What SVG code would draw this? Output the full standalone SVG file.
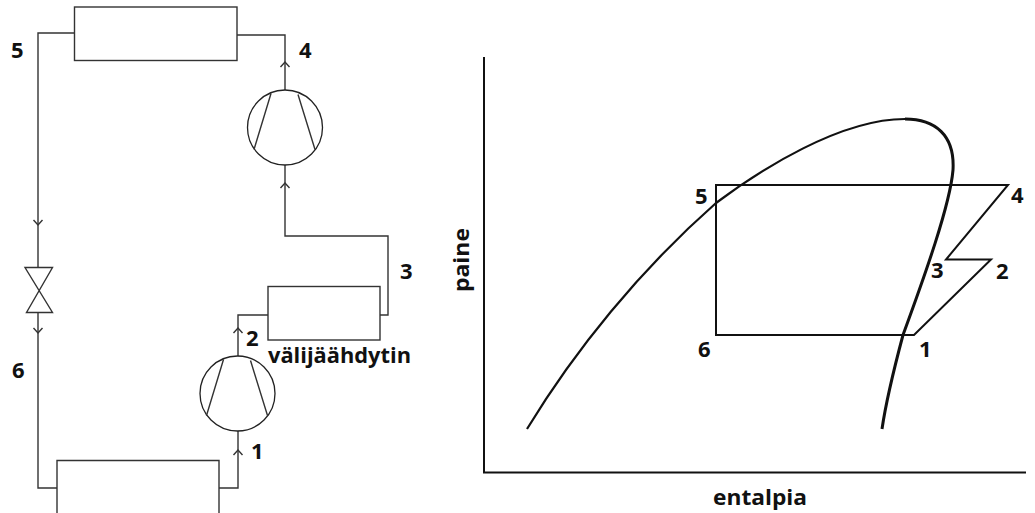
<svg xmlns="http://www.w3.org/2000/svg" width="1035" height="513" viewBox="0 0 1035 513">
<style>
.l{fill:none;stroke:#333;stroke-width:1.4}
.c{fill:#fff;stroke:#222;stroke-width:1.3}
.a{fill:none;stroke:#111;stroke-width:2;stroke-linejoin:miter}
.k{fill:none;stroke:#111;stroke-width:2.2;stroke-linecap:butt}
.h{fill:none;stroke:#111;stroke-width:3;stroke-linecap:butt}
text{font-family:"Open Sans","Noto Sans",sans-serif;font-weight:700;font-size:22px;fill:#111}
</style>
<defs>
<g id="comp"><circle class="c" r="37.5"/><path class="l" d="M-14,-34L-31,22M13,-33L30,22"/></g>
<path id="ch" class="l" d="M-4.500,5L0,0L4.500,5"/>
</defs>
<rect width="1035" height="513" fill="#fff"/>
<g id="connectors">
<path class="l" d="M75,33H38V267M38,312V488H57M219,488H238V431M238,356V315H268M380,315H388V236H285V165M285,90V35H237"/>
<use href="#ch" x="285" y="62"/>
<use href="#ch" x="285" y="183"/>
<use href="#ch" x="238" y="328"/>
<use href="#ch" x="238" y="450"/>
<use href="#ch" transform="translate(38,225) rotate(180)"/>
<use href="#ch" transform="translate(38,333) rotate(180)"/>
</g>
<g id="condenser"><rect class="l" x="74.500" y="7" width="162.500" height="53.500"/></g>
<g id="intercooler"><rect class="l" x="268" y="286.500" width="112" height="53.500"/><text x="268" y="363" textLength="143" lengthAdjust="spacingAndGlyphs">välijäähdytin</text></g>
<g id="evaporator"><path class="l" d="M57,513V460.500H219V513"/></g>
<g id="compressor-high"><use href="#comp" x="285" y="127.500"/></g>
<g id="compressor-low"><use href="#comp" x="237.500" y="393.500"/></g>
<g id="valve"><path class="l" d="M25,267.500H52.500L26.500,312.500H52.500Z"/></g>
<g id="labels-left">
<text x="11" y="58">5</text><text x="299" y="58">4</text><text x="400" y="279">3</text><text x="246" y="346">2</text><text x="251" y="459">1</text><text x="12" y="378">6</text>
</g>
<g id="chart">
<path class="a" d="M484,57V472.500H1026"/>
<path class="a" d="M716,185H1008L946,259.500H991L914,335H716Z"/>
<path class="k" d="M527,429C575,350 640,270 716,203C760,170 840,119 905,119"/>
<path class="h" d="M905,119C935,119 955,135 953,170C950,205 925,275 903,335C895,365 887,395 882,429"/>
<text x="695" y="204">5</text><text x="1011" y="203">4</text><text x="931" y="278">3</text><text x="996" y="279">2</text><text x="919" y="357">1</text><text x="698" y="357">6</text>
<text x="713" y="505" textLength="94" lengthAdjust="spacingAndGlyphs">entalpia</text>
<text transform="translate(469,292) rotate(-90)" textLength="64" lengthAdjust="spacingAndGlyphs">paine</text>
</g>
</svg>
